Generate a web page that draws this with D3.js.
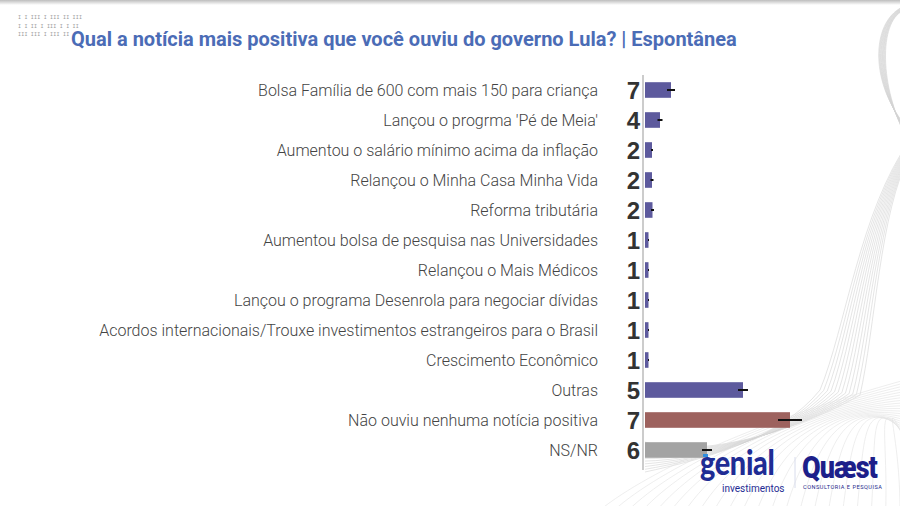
<!DOCTYPE html>
<html><head><meta charset="utf-8">
<script src="https://cdn.jsdelivr.net/npm/d3@7"></script>
<style>html,body{margin:0;padding:0;background:#fff;overflow:hidden}</style>
</head><body><svg id="c" width="900" height="506"></svg>
<script>
const titleText = "Qual a notícia mais positiva que você ouviu do governo Lula? | Espontânea";
const categories = [
  "Bolsa Família de 600 com mais 150 para criança",
  "Lançou o progrma 'Pé de Meia'",
  "Aumentou o salário mínimo acima da inflação",
  "Relançou o Minha Casa Minha Vida",
  "Reforma tributária",
  "Aumentou bolsa de pesquisa nas Universidades",
  "Relançou o Mais Médicos",
  "Lançou o programa Desenrola para negociar dívidas",
  "Acordos internacionais/Trouxe investimentos estrangeiros para o Brasil",
  "Crescimento Econômico",
  "Outras",
  "Não ouviu nenhuma notícia positiva",
  "NS/NR"
];
const valueLabels = ["7","4","2","2","2","1","1","1","1","1","5","7","6"];
const barValues = [2.6, 1.5, 0.7, 0.7, 0.75, 0.35, 0.35, 0.35, 0.35, 0.35, 9.8, 14.5, 6.2];
const errHalf   = [0.4, 0.25, 0.1, 0.15, 0.15, 0.05, 0.05, 0.05, 0.05, 0.05, 0.5, 1.2, 0.5];
const barGroups = ["a","a","a","a","a","a","a","a","a","a","a","b","c"];

const svg = d3.select("#c");
const colors = {a:"#5d5a9d", b:"#9d625e", c:"#a3a3a3"};

// top shadow
const defs = svg.append("defs");
const g1 = defs.append("linearGradient").attr("id","sh").attr("x1",0).attr("x2",0).attr("y1",0).attr("y2",1);
g1.append("stop").attr("offset","0%").attr("stop-color","#bdbdbd");
g1.append("stop").attr("offset","100%").attr("stop-color","#ffffff");
svg.append("rect").attr("x",0).attr("y",0).attr("width",900).attr("height",5).attr("fill","url(#sh)");

// decorative wave lines
const wave = svg.append("g").attr("fill","none").attr("stroke","#d4d4d4").attr("stroke-width",0.6);
const N = 12;
for (let i = 0; i < N; i++) {
  const t = i / (N - 1);
  const p = d3.path();
  p.moveTo(905, 6 + 4*t);
  p.bezierCurveTo(872 + 8*t, 18, 868 + 10*t, 80, 905, 125 + 10*t);
  wave.append("path").attr("d", p.toString());
  const q = d3.path();
  q.moveTo(910, 140 + 15*t);
  q.bezierCurveTo(860 + 20*t, 210, 845 + 30*t, 330, 820 + 40*t, 390 + 5*t);
  q.bezierCurveTo(780 + 20*t, 440 - 10*t, 700, 460, 645, 472 - 30*t);
  wave.append("path").attr("d", q.toString());
}
for (let i = 0; i < 22; i++) {
  const t = i / 21;
  const r = d3.path();
  r.moveTo(600 + 300*t, 510);
  r.bezierCurveTo(650 + 250*t, 470 - 40*t, 760 + 120*t, 420 - 30*t, 905, 380 + 60*t);
  wave.append("path").attr("d", r.toString()).attr("stroke","#e2e2e2");
}

// top-left decoration
const deco = ["I  I  III I III II III", "I  I II  I III I I II", "III III I III II"];
svg.append("g").selectAll("text").data(deco).join("text")
  .attr("x", 18).attr("y", (d,i)=> 19 + i*8.5)
  .attr("font-family","DejaVu Sans Mono").attr("font-size",5).attr("fill","#9a9a9a")
  .attr("letter-spacing",0.2).text(d=>d);

// title
svg.append("text").attr("x",71).attr("y",46)
  .attr("font-family","Roboto").attr("font-weight",700).attr("font-size",20)
  .attr("fill","#4b6cb6").text(titleText);

const y = d3.scaleBand().domain(categories).range([75, 465]).paddingInner(0.48).paddingOuter(0.24);
const x = d3.scaleLinear().domain([0, 10]).range([645, 745]);

// axis line
svg.append("line").attr("x1",643).attr("x2",643).attr("y1",75).attr("y2",470)
  .attr("stroke","#cccccc").attr("stroke-width",2);

const rows = categories.map((c,i)=>({c, v:barValues[i], e:errHalf[i], l:valueLabels[i], g:barGroups[i]}));

svg.append("g").selectAll("rect").data(rows).join("rect")
  .attr("x", x(0)).attr("y", d=>y(d.c))
  .attr("width", d=>x(d.v)-x(0)).attr("height", y.bandwidth())
  .attr("fill", d=>colors[d.g]);

svg.append("g").selectAll("line").data(rows).join("line")
  .attr("x1", d=>x(d.v - d.e)).attr("x2", d=>x(d.v + d.e))
  .attr("y1", d=>y(d.c)+y.bandwidth()/2).attr("y2", d=>y(d.c)+y.bandwidth()/2)
  .attr("stroke","#111").attr("stroke-width",2);

svg.append("g").selectAll("text").data(rows).join("text")
  .attr("x", 598).attr("y", d=>y(d.c)+y.bandwidth()/2).attr("dy","0.38em")
  .attr("text-anchor","end").attr("font-family","Roboto").attr("font-weight",300)
  .attr("font-size",16).attr("fill","#444").text(d=>d.c);

svg.append("g").selectAll("text").data(rows).join("text")
  .attr("x", 640).attr("y", d=>y(d.c)+y.bandwidth()/2).attr("dy","0.37em")
  .attr("text-anchor","end").attr("font-family","Liberation Sans").attr("font-weight",700)
  .attr("font-size",24).attr("fill","#333").text(d=>d.l);

// logos
const lg = svg.append("g");
lg.append("text").attr("transform","translate(700,475) scale(1.03,1.25)").attr("font-family","Lato").attr("font-weight",900)
  .attr("font-size",28).attr("fill","#1f2c94").attr("letter-spacing",-0.3).text("genial");
lg.append("rect").attr("x",703).attr("y",454).attr("width",5).attr("height",3).attr("fill","#2f8ee0");
lg.append("text").attr("x",722).attr("y",492).attr("font-family","Roboto").attr("font-weight",400)
  .attr("font-size",10).attr("fill","#1f2c94").text("investimentos");
lg.append("line").attr("x1",795).attr("x2",795).attr("y1",457).attr("y2",488).attr("stroke","#d8dcec").attr("stroke-width",1);
lg.append("text").attr("transform","translate(802,478) scale(1,1.15)").attr("font-family","Roboto").attr("font-weight",900)
  .attr("font-size",27).attr("fill","#1d1f8a").attr("letter-spacing",-1).text("Quæst");
lg.append("text").attr("x",803).attr("y",489).attr("font-family","Roboto").attr("font-weight",400)
  .attr("font-size",5.6).attr("fill","#1d1f8a").attr("letter-spacing",0.5).text("CONSULTORIA E PESQUISA");
</script></body></html>
